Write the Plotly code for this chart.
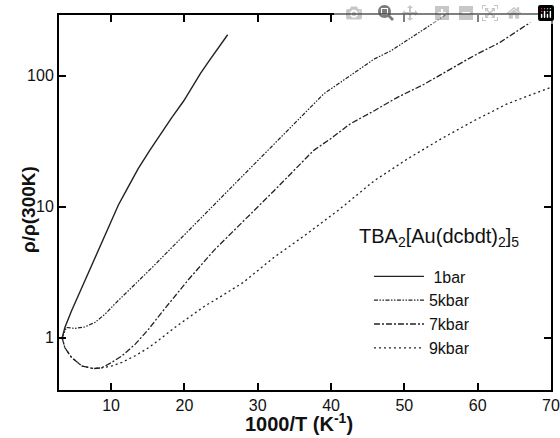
import math
import plotly.graph_objects as go

# ---- data ----
x_1bar = [3.33, 3.7, 4.6, 6.0, 7.4, 8.7, 9.9, 11.0, 12.1, 13.7, 15.3, 16.7, 18.3, 19.9, 21.0, 22.2, 23.3, 24.2, 25.0, 25.9]
y_1bar = [1.0, 1.2, 1.6, 2.4, 3.6, 5.3, 7.6, 10.3, 13.4, 19.5, 27.0, 35.5, 48, 64, 81, 104, 128, 150, 172, 205]

x_5kbar = [3.33, 3.9, 5.1, 6.4, 7.8, 9.2, 10.5, 11.9, 13.7, 15.6, 17.4, 19.2, 21.0, 22.8, 24.7, 27.6, 29.9,
           32.2, 34.5, 36.7, 39.0, 41.3, 43.6, 45.9, 48.2, 50.4, 52.7, 55.6]
y_5kbar = [1.0, 1.2, 1.18, 1.21, 1.31, 1.52, 1.81, 2.15, 2.72, 3.44, 4.35, 5.5, 6.95, 8.8, 11.3, 16.5, 22.5,
           30.1, 40.3, 54, 72.5, 89, 109, 134, 155, 185, 226, 290]

x_7kbar = [3.33, 3.7, 4.6, 6.0, 7.6, 8.7, 10.1, 11.5, 13.3, 15.1, 16.9, 18.7, 20.6, 22.4, 24.2, 26.5, 28.3,
           29.5, 32.2, 34.9, 37.6, 39.9, 42.6, 45.9, 49.0, 52.7, 55.9, 59.5, 63.1, 67.2]
y_7kbar = [1.0, 0.84, 0.71, 0.61, 0.583, 0.59, 0.65, 0.73, 0.895, 1.16, 1.56, 2.09, 2.8, 3.65, 4.75, 6.37, 8.0,
           9.3, 13.2, 18.8, 26.8, 32.9, 42.8, 54, 68, 86, 109, 142, 180, 255]

x_9kbar = [3.33, 3.7, 4.6, 6.0, 7.6, 8.7, 10.1, 11.5, 13.3, 15.1, 16.9, 18.7, 20.6, 22.8, 25.1, 28.0, 32.2,
           36.7, 41.3, 45.9, 50.4, 55.0, 59.5, 64.0, 70.0]
y_9kbar = [1.0, 0.84, 0.71, 0.61, 0.583, 0.59, 0.61, 0.65, 0.73, 0.84, 1.0, 1.2, 1.43, 1.75, 2.09, 2.64, 4.1,
           6.2, 9.7, 15.8, 23.1, 32.9, 45.3, 60.8, 81.5]

series_names = ["\u00a01bar", "5kbar", "7kbar", "9kbar"]
legend_title = "TBA<sub>2</sub>[Au(dcbdt)<sub>2</sub>]<sub>5</sub>"
x_title = "1000/T (K<sup>-1</sup>)"
y_title = "ρ/ρ(300K)"
x_ticks = [10, 20, 30, 40, 50, 60, 70]
x_minor = [4, 6, 8, 12, 14, 16, 18, 22, 24, 26, 28, 32, 34, 36, 38, 42, 44, 46, 48,
           52, 54, 56, 58, 62, 64, 66, 68]
y_ticks = [1, 10, 100]
y_minor = [0.4, 0.5, 0.6, 0.7, 0.8, 0.9, 2, 3, 4, 5, 6, 7, 8, 9, 20, 30, 40, 50, 60, 70, 80, 90, 200]

FONT = "Liberation Sans, Arial, sans-serif"
LC = "#222222"
X_RANGE = [2.9, 70]
Y_RANGE = [math.log10(0.4), math.log10(290)]

fig = go.Figure()
styles = [
    dict(dash="solid", width=1.4),
    dict(dash="4px,1.5px,1.5px,1.5px,1.5px,1.5px", width=1.2),
    dict(dash="6px,2px,2px,2px", width=1.3),
    dict(dash="2px,3px", width=1.3),
]
for name, xs, ys, st in zip(series_names,
                            [x_1bar, x_5kbar, x_7kbar, x_9kbar],
                            [y_1bar, y_5kbar, y_7kbar, y_9kbar], styles):
    fig.add_trace(go.Scatter(x=xs, y=ys, mode="lines", name=name,
                             line=dict(color=LC, width=st["width"], dash=st["dash"])))

common = dict(showgrid=False, zeroline=False, automargin=False, tickcolor="black")

fig.update_layout(
    width=560, height=438,
    margin=dict(l=59, r=9, t=15, b=48, autoexpand=False),
    paper_bgcolor="white", plot_bgcolor="white",
    font=dict(family=FONT, size=16, color="#111111"),
    showlegend=True,
    legend=dict(
        x=0.63, y=0.348, xanchor="left", yanchor="top",
        bgcolor="rgba(0,0,0,0)",
        font=dict(size=16, family=FONT, color="#111111"),
        itemwidth=50,
        tracegroupgap=0,
    ),
    xaxis=dict(range=X_RANGE, tickvals=x_ticks, ticktext=[str(v) for v in x_ticks],
               ticks="inside", ticklen=7, tickwidth=1.5,
               showline=True, linewidth=2, linecolor="black", mirror="ticks",
               tickfont=dict(size=16, family=FONT), **common),
    yaxis=dict(type="log", range=Y_RANGE, tickvals=y_ticks, ticktext=[str(v) for v in y_ticks],
               ticks="inside", ticklen=7, tickwidth=1.5,
               showline=True, linewidth=2, linecolor="black", mirror="ticks",
               tickfont=dict(size=16, family=FONT), **common),
    xaxis2=dict(overlaying="x", anchor="y", side="bottom", range=X_RANGE, tickvals=x_minor,
                ticks="inside", ticklen=4, tickwidth=1.2, showticklabels=False,
                showline=False, mirror="ticks", **common),
    yaxis2=dict(overlaying="y", anchor="x", side="left", type="log", range=Y_RANGE, tickvals=y_minor,
                ticks="inside", ticklen=4, tickwidth=1.2, showticklabels=False,
                showline=False, mirror="ticks", **common),
    annotations=[
        dict(text=legend_title, xref="paper", yref="paper", x=0.6057, y=0.408,
             xanchor="left", yanchor="middle", showarrow=False,
             font=dict(size=20, family=FONT, color="#111111")),
        dict(text=x_title, xref="paper", yref="paper", x=0.488, y=-0.125,
             xanchor="center", yanchor="bottom", showarrow=False,
             font=dict(size=20, family=FONT, color="#111111", weight="bold")),
        dict(text=y_title, xref="paper", yref="paper", x=-0.063, y=0.48,
             xanchor="center", yanchor="middle", showarrow=False, textangle=-90,
             font=dict(size=19, family=FONT, color="#111111", weight="bold")),
    ],
)

fig.write_html("out.html",
               post_script="document.body.style.margin='0px';document.body.style.overflow='hidden';")
